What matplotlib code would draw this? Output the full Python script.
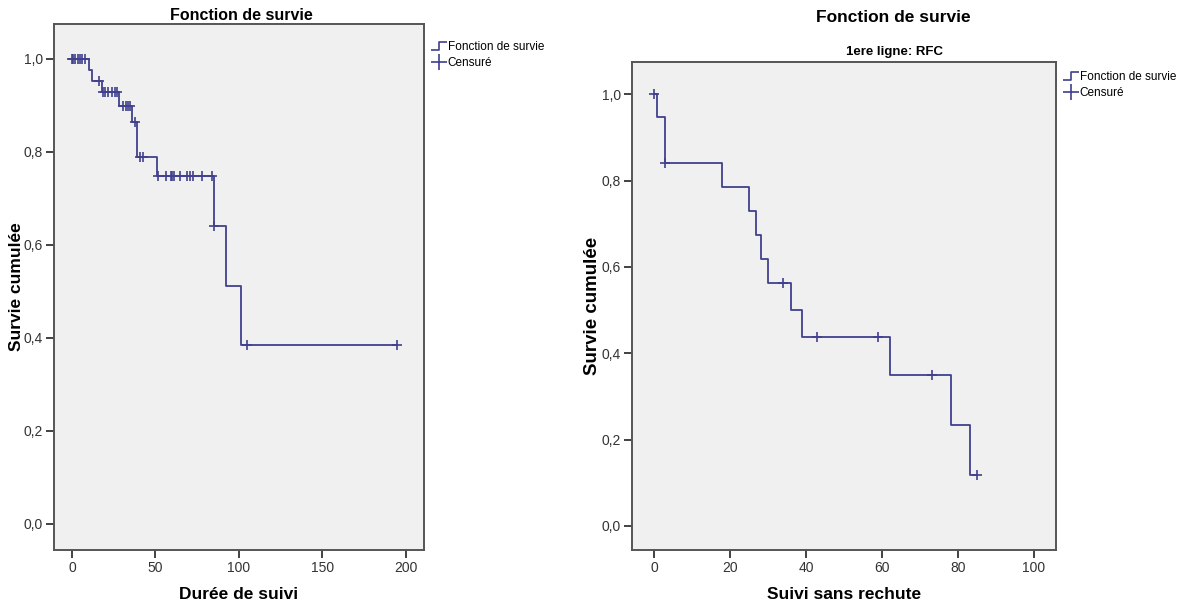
import numpy as np
import matplotlib
matplotlib.use("Agg")
import matplotlib.pyplot as plt
from matplotlib.path import Path
from matplotlib.lines import Line2D
from matplotlib.ticker import FuncFormatter

plt.rcParams['font.family'] = ['Liberation Sans', 'DejaVu Sans']

# left chart: Durée de suivi
t1 = [0, 10.4, 11.8, 17.8, 28.1, 35.7, 39.1, 51.1, 85.0, 92.2, 101.2]
s1 = [1.0, 0.976, 0.953, 0.928, 0.898, 0.865, 0.788, 0.748, 0.640, 0.512, 0.384]
end1 = 194.6
cens1 = [0, 0.8, 2.0, 3.8, 4.8, 5.8, 7.8, 16.3, 18.4, 19.8, 21.7, 23.8, 25.7, 26.8,
         30.7, 32.3, 33.7, 34.7, 37.7, 40.7, 42.3, 51.5, 56.3, 59.1, 60.1, 61.1,
         64.7, 68.7, 70.7, 72.6, 77.7, 83.7, 85.3, 104.8, 194.6]

# right chart: Suivi sans rechute
t2 = [0, 0.7, 2.9, 17.8, 25.0, 26.8, 28.1, 30.1, 36.0, 39.0, 62.1, 78.1, 83.2]
s2 = [1.0, 0.947, 0.842, 0.786, 0.730, 0.674, 0.618, 0.562, 0.500, 0.437, 0.350, 0.233, 0.117]
end2 = 85.1
cens2 = [0, 3.0, 34.0, 43.0, 59.0, 73.1, 85.1]

col = '#40408e'
step_marker = Path([(-1, -0.5), (0, -0.5), (0, 0.5), (1, 0.5)],
                   [Path.MOVETO, Path.LINETO, Path.LINETO, Path.LINETO])

def comma(v, p):
    return f"{v:.1f}".replace('.', ',')

def km(ax, t, s, end, cens, xlim, xticks, xlabel, labsize, ylx, xly):
    tt = list(t) + [end]
    ss = list(s) + [s[-1]]
    ax.step(tt, ss, where='post', color=col, lw=1.3)
    idx = np.searchsorted(t, cens, side='right') - 1
    ax.plot(cens, np.array(s)[idx], linestyle='none', marker='+', color=col,
            markersize=6.5, markeredgewidth=1.2)
    ax.set_facecolor('#f0f0f0')
    ax.set_xlim(xlim)
    ax.set_ylim(-0.056, 1.075)
    ax.set_xticks(xticks)
    ax.set_yticks([0, 0.2, 0.4, 0.6, 0.8, 1.0])
    ax.yaxis.set_major_formatter(FuncFormatter(comma))
    ax.tick_params(direction='out', length=6, width=1.3, color='#333333',
                   labelsize=10, labelcolor='#333333', pad=2)
    for sp in ax.spines.values():
        sp.set_color('#555555')
        sp.set_linewidth(1.4)
    ax.set_xlabel(xlabel, fontsize=12.5, fontweight='bold')
    ax.set_ylabel('Survie cumulée', fontsize=labsize, fontweight='bold')
    ax.yaxis.set_label_coords(ylx, 0.5)
    ax.xaxis.set_label_coords(0.5, xly)

fig = plt.figure(figsize=(11.9, 6.1), dpi=100)
ax1 = fig.add_axes([0.0454, 0.0984, 0.3109, 0.8623])
ax2 = fig.add_axes([0.5311, 0.0984, 0.3563, 0.80])

km(ax1, t1, s1, end1, cens1, (-10.8, 211), [0, 50, 100, 150, 200], 'Durée de suivi',
   12.5, -0.08, -0.07)
km(ax2, t2, s2, end2, cens2, (-5.8, 105.8), [0, 20, 40, 60, 80, 100], 'Suivi sans rechute',
   13.5, -0.072, -0.076)

fig.text(241 / 1190, 1 - 15 / 610, 'Fonction de survie', ha='center', va='center',
         fontsize=11.5, fontweight='bold')
fig.text(893 / 1190, 1 - 18 / 610, 'Fonction de survie', ha='center', va='center',
         fontsize=12.5, fontweight='bold')
fig.text(894 / 1190, 1 - 52 / 610, '1ere ligne: RFC', ha='center', va='center',
         fontsize=9.5, fontweight='bold')

handles = [Line2D([], [], linestyle='none', marker=step_marker, markersize=12,
                  markerfacecolor='none', markeredgecolor=col, markeredgewidth=1.2),
           Line2D([], [], linestyle='none', marker='+', color=col, markersize=12,
                  markeredgewidth=1.2)]
labels = ['Fonction de survie', 'Censuré']
for ax, top in ((ax1, 0.985), (ax2, 1.0)):
    ax.legend(handles, labels, loc='upper left', bbox_to_anchor=(1.0, top),
              frameon=False, fontsize=8.5, handlelength=1.0, handletextpad=0.2,
              labelspacing=0.3, borderaxespad=0.5, borderpad=0.3)

fig.savefig('out.png', dpi=100)
